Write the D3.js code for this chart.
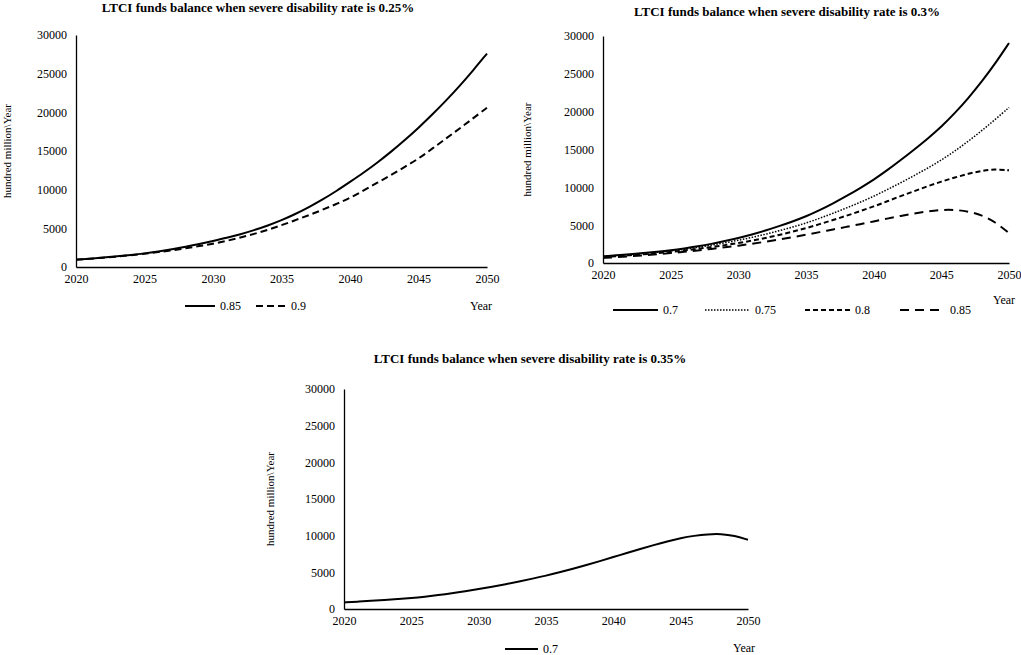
<!DOCTYPE html>
<html>
<head>
<meta charset="utf-8">
<script src="https://cdn.jsdelivr.net/npm/d3@7"></script>
<style>
  body { margin: 0; background: #fff; }
  svg text { font-family: "Liberation Serif", "Times New Roman", serif !important; fill: #000; }
</style>
</head>
<body>
<svg width="1021" height="655"></svg>
<script>
var years = d3.range(2020, 2051);
var xTicks = [2020, 2025, 2030, 2035, 2040, 2045, 2050];
var yTicks = [0, 5000, 10000, 15000, 20000, 25000, 30000];

// severe disability rate 0.25%, yearly estimates 2020..2050
var r025_085 = [950, 1080, 1225, 1385, 1560, 1750, 2010, 2300, 2620, 2970, 3370, 3770, 4230, 4760, 5360, 6040,
  6840, 7730, 8720, 9810, 11000, 12200, 13500, 14900, 16400, 18000, 19700, 21500, 23400, 25450, 27600];
var r025_090 = [950, 1070, 1200, 1350, 1520, 1700, 1920, 2160, 2420, 2700, 3000, 3380, 3800, 4270, 4800, 5400,
  6050, 6700, 7400, 8150, 8900, 9900, 10900, 11900, 12950, 14000, 15300, 16600, 17900, 19250, 20600];
// severe disability rate 0.3%
var r030_070 = [880, 1010, 1150, 1310, 1480, 1670, 1920, 2200, 2520, 2890, 3300, 3760, 4280, 4860, 5480, 6150,
  6970, 7870, 8850, 9900, 11000, 12250, 13600, 15000, 16450, 18000, 19800, 21800, 24000, 26400, 29070];
var r030_075 = [880, 1000, 1130, 1280, 1430, 1600, 1820, 2070, 2350, 2660, 3000, 3380, 3800, 4250, 4740, 5270,
  5900, 6570, 7280, 8020, 8800, 9700, 10600, 11550, 12550, 13600, 14800, 16100, 17500, 19000, 20550];
var r030_080 = [800, 910, 1030, 1160, 1300, 1450, 1650, 1870, 2110, 2360, 2630, 2950, 3300, 3700, 4130, 4600,
  5130, 5680, 6250, 6850, 7470, 8150, 8850, 9500, 10150, 10760, 11300, 11800, 12200, 12400, 12250];
var r030_085 = [660, 770, 890, 1020, 1160, 1300, 1470, 1660, 1860, 2070, 2280, 2540, 2810, 3100, 3410, 3730,
  4080, 4430, 4780, 5130, 5490, 5870, 6230, 6560, 6840, 7030, 7050, 6800, 6350, 5400, 3950];
// severe disability rate 0.35%
var r035_070 = [900, 1000, 1110, 1230, 1360, 1500, 1680, 1890, 2130, 2410, 2720, 3040, 3380, 3750, 4140, 4540,
  5000, 5490, 6000, 6530, 7080, 7640, 8190, 8720, 9220, 9670, 9990, 10200, 10260, 10000, 9440];

var svg = d3.select("svg");

var dashes = {
  solid: null,
  dotted: "1.5,1.5",
  dashed: "5,3",
  longdash: "9,6",
  mid: "7,4"
};

function drawPanel(p) {
  var g = svg.append("g");
  var x = d3.scaleLinear().domain([2020, 2050]).range([p.left, p.right]);
  var y = d3.scaleLinear().domain([0, 30000]).range([p.bottom, p.top]);

  g.append("text")
    .attr("x", p.titleX).attr("y", p.titleY)
    .attr("text-anchor", "middle")
    .style("font-size", "13px").style("font-weight", "bold")
    .text(p.title);

  // axes: plain lines, no tick marks
  var gy = g.append("g")
    .attr("transform", "translate(" + p.left + ",0)")
    .call(d3.axisLeft(y).tickValues(yTicks).tickSize(0).tickPadding(9).tickFormat(d3.format("d")));
  var gx = g.append("g")
    .attr("transform", "translate(0," + p.bottom + ")")
    .call(d3.axisBottom(x).tickValues(xTicks).tickSize(0).tickPadding(7).tickFormat(d3.format("d")));
  [gx, gy].forEach(function (a) {
    a.attr("font-family", "Liberation Serif").attr("font-size", 12);
    a.select(".domain").attr("stroke", "#000").attr("stroke-width", 1.3);
    a.selectAll("text").attr("fill", "#000").attr("font-family", "Liberation Serif");
  });

  g.append("text")
    .attr("transform", "translate(" + p.ylabX + "," + ((p.top + p.bottom) / 2) + ") rotate(-90)")
    .attr("text-anchor", "middle")
    .style("font-size", "11px")
    .text("hundred million\\Year");

  var line = d3.line()
    .x(function (d, i) { return x(years[i]); })
    .y(function (d) { return y(d); })
    .curve(d3.curveBasis);

  p.series.forEach(function (s) {
    g.append("path")
      .datum(s.values)
      .attr("d", line)
      .attr("fill", "none")
      .attr("stroke", "#000")
      .attr("stroke-width", s.dash === "dotted" ? 1.5 : 2)
      .attr("stroke-dasharray", dashes[s.dash]);
  });

  // legend
  p.series.forEach(function (s, i) {
    var lx = p.legend[i];
    g.append("line")
      .attr("x1", lx).attr("x2", lx + p.legendLen)
      .attr("y1", p.legendY).attr("y2", p.legendY)
      .attr("stroke", "#000")
      .attr("stroke-width", s.dash === "dotted" ? 1.5 : 2)
      .attr("stroke-dasharray", dashes[s.dash]);
    g.append("text")
      .attr("x", lx + p.legendLen + 5).attr("y", p.legendY + 4)
      .style("font-size", "12px")
      .text(s.name);
  });

  g.append("text")
    .attr("x", p.yearX).attr("y", p.yearY)
    .style("font-size", "12px")
    .text("Year");
}

drawPanel({
  title: "LTCI funds balance when severe disability rate is 0.25%",
  titleX: 258, titleY: 12,
  left: 76, right: 487, top: 35, bottom: 267,
  ylabX: 11,
  series: [
    { name: "0.85", values: r025_085, dash: "solid" },
    { name: "0.9", values: r025_090, dash: "mid" }
  ],
  legend: [185, 256], legendLen: 30, legendY: 306,
  yearX: 470, yearY: 310
});

drawPanel({
  title: "LTCI funds balance when severe disability rate is 0.3%",
  titleX: 787, titleY: 16,
  left: 603, right: 1009, top: 36, bottom: 263,
  ylabX: 531,
  series: [
    { name: "0.7", values: r030_070, dash: "solid" },
    { name: "0.75", values: r030_075, dash: "dotted" },
    { name: "0.8", values: r030_080, dash: "dashed" },
    { name: "0.85", values: r030_085, dash: "longdash" }
  ],
  legend: [613, 705, 805, 900], legendLen: 45, legendY: 310,
  yearX: 993, yearY: 304
});

drawPanel({
  title: "LTCI funds balance when severe disability rate is 0.35%",
  titleX: 530, titleY: 363,
  left: 344, right: 748, top: 389, bottom: 609,
  ylabX: 274,
  series: [
    { name: "0.7", values: r035_070, dash: "solid" }
  ],
  legend: [505], legendLen: 33, legendY: 649,
  yearX: 733, yearY: 652
});
</script>
</body>
</html>
